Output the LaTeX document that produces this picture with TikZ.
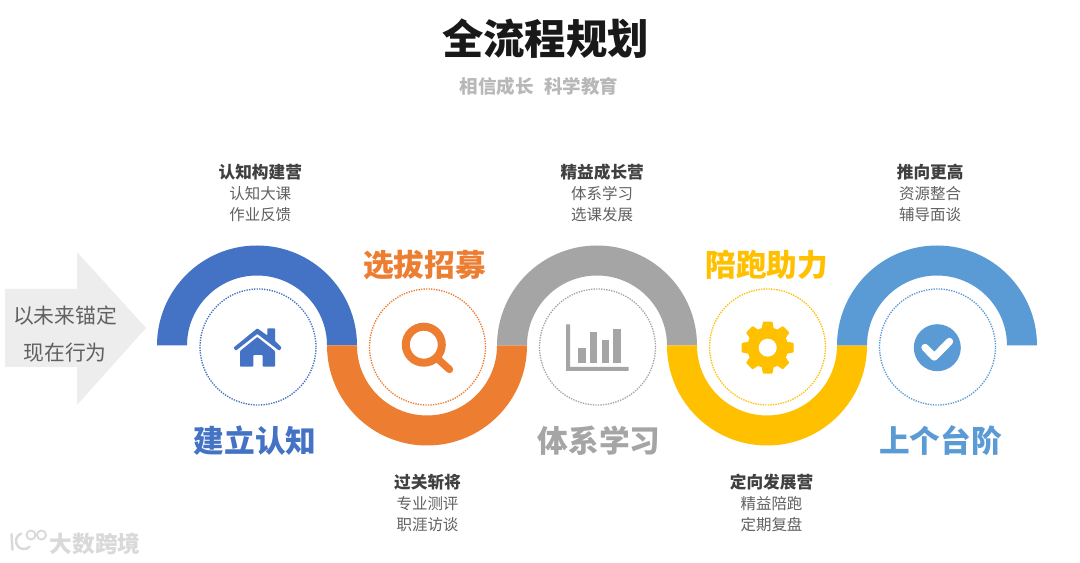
\documentclass[tikz,border=0pt]{standalone}
\usepackage{fontspec}
\setmainfont{Noto Sans CJK SC}
\usepackage{xcolor}
\usetikzlibrary{positioning}
\definecolor{stepblue}{HTML}{4472C4}
\definecolor{steporange}{HTML}{ED7D31}
\definecolor{stepgray}{HTML}{A5A5A5}
\definecolor{stepyellow}{HTML}{FFC000}
\definecolor{stepsky}{HTML}{5B9BD5}
\newcommand{\sub}[1]{{\bfseries\fontsize{12.5}{15.75}\selectfont\color{black!75}#1}}

\begin{document}
\begin{tikzpicture}[
  x=0.75pt, y=0.75pt,
  ring/.style={circle, draw, line width=1pt, dash pattern=on 1pt off 0.9pt,
    minimum size=87pt, inner sep=0pt},
  head/.style={inner sep=0pt, text height=17pt, text depth=5pt,
    font=\bfseries\fontsize{23}{26}\selectfont},
  detail/.style={inner sep=0pt, align=center, text=black!62,
    font=\fontsize{11.6}{15.75}\selectfont}
]
  \useasboundingbox (0,0) rectangle (1080,563);
  \fill[white] (0,0) rectangle (1080,563);

  % title
  \node[inner sep=0pt, text=black!90, font=\bfseries\fontsize{31}{34}\selectfont] (title) at (545.5,524) {全流程规划};
  \node[inner sep=0pt, text=black!28, font=\bfseries\fontsize{13.9}{16}\selectfont] (subtitle) at (539,477) {相信成长\hspace{0.55em}科学教育};

  % left arrow
  \fill[black!7] (5,274) -- (77,274) -- (77,311) -- (146,235) -- (77,158) -- (77,196) -- (5,196) -- cycle;
  \node[inner sep=0pt, align=center, text=black!62, font=\fontsize{15.6}{27.75}\selectfont] (motto) at (65,229) {以未来锚定\\现在行为};

  % bands
  \fill[stepblue] (157,217.5) arc (180:0:100) -- (327,217.5) arc (0:180:70) -- cycle;
  \fill[steporange] (327,217.5) arc (180:360:100) -- (497,217.5) arc (360:180:70) -- cycle;
  \fill[stepgray] (497,217.5) arc (180:0:100) -- (667,217.5) arc (0:180:70) -- cycle;
  \fill[stepyellow] (667,217.5) arc (180:360:100) -- (837,217.5) arc (360:180:70) -- cycle;
  \fill[stepsky] (837,217.5) arc (180:0:100) -- (1007,217.5) arc (0:180:70) -- cycle;

  % rings
  \node[ring, draw=stepblue] (c1) at (258,216) {};
  \node[ring, draw=steporange] (c2) at (427.5,216) {};
  \node[ring, draw=stepgray] (c3) at (597.5,216) {};
  \node[ring, draw=stepyellow] (c4) at (767.5,216) {};
  \node[ring, draw=stepsky] (c5) at (937.5,216) {};

  % headings
  \node[head, text=stepblue, below=18.2pt of c1, xshift=-2.2pt] (h1) {建立认知};
  \node[head, text=steporange, above=3.6pt of c2, xshift=-2.2pt] (h2) {选拔招募};
  \node[head, text=stepgray, below=18.2pt of c3, xshift=1.3pt] (h3) {体系学习};
  \node[head, text=stepyellow, above=3.6pt of c4, xshift=-0.5pt] (h4) {陪跑助力};
  \node[head, text=stepsky, below=18.2pt of c5, xshift=2.2pt] (h5) {上个台阶};

  % details
  \node[detail, above=49.8pt of c1, xshift=1.7pt] (t1) {\sub{认知构建营}\\认知大课\\作业反馈};
  \node[detail, below=51.4pt of c2, xshift=0pt] (t2) {\sub{过关斩将}\\专业测评\\职涯访谈};
  \node[detail, above=49.8pt of c3, xshift=3.5pt] (t3) {\sub{精益成长营}\\体系学习\\选课发展};
  \node[detail, below=51.4pt of c4, xshift=3pt] (t4) {\sub{定向发展营}\\精益陪跑\\定期复盘};
  \node[detail, above=49.8pt of c5, xshift=-5.5pt] (t5) {\sub{推向更高}\\资源整合\\辅导面谈};

  % icons, in pixels from the top
  \begin{scope}[shift={(0,563)}, yscale=-1]
    % house
    \fill[stepblue, rounded corners=0.6pt] (233.5,347.7) -- (257.3,328.3) -- (267.3,335.5) -- (267.3,328.3) -- (275,328.3) -- (275,341) -- (281.7,347.7) -- (279.3,350.7) -- (257.3,334) -- (235.7,350.7) -- cycle;
    \fill[stepblue, rounded corners=0.6pt] (240,351) -- (257.3,337) -- (275,351) -- (275,366.7) -- (262.7,366.7) -- (262.7,355) -- (253.3,355) -- (253.3,366.7) -- (240,366.7) -- cycle;
    % magnifier
    \draw[steporange, line width=6pt] (423.8,344.7) circle (18);
    \draw[steporange, line width=5.5pt, line cap=round] (439,360) -- (449.5,369.5);
    % chart
    \fill[stepgray] (566,324.3) -- (570,324.3) -- (570,367) -- (628.7,367) -- (628.7,371) -- (566,371) -- cycle;
    \fill[stepgray] (578,347.7) rectangle (585.7,363.3);
    \fill[stepgray] (590,332) rectangle (597.3,363.3);
    \fill[stepgray] (602,340) rectangle (609.3,363.3);
    \fill[stepgray] (613.3,329) rectangle (621,363.3);
    % gear
    \fill[stepyellow] (767.7,347.7) circle (20.5);
    \foreach \a in {0,45,...,315}
      \fill[stepyellow, rotate around={\a:(767.7,347.7)}, rounded corners=0.6pt] (761,332) -- (763,321.7) -- (772.4,321.7) -- (774.4,332) -- cycle;
    \fill[white] (767.7,347.7) circle (9);
    % check
    \fill[stepsky] (937.3,347.7) circle (23.5);
    \draw[white, line width=5.5pt, line cap=round, line join=round] (925,347.5) -- (934.3,357) -- (949.5,341.5);
    % logo
    \draw[black!15, line width=1.8pt, line cap=round] (11.5,534) -- (12.5,550);
    \draw[black!15, line width=1.8pt, line cap=round] (29.6,546.7) arc (45:250:8);
    \draw[black!15, line width=1.4pt] (31,535) circle (4.5) (41.5,535) circle (4.5);
  \end{scope}
  \node[inner sep=0pt, text=black!15, font=\bfseries\fontsize{17}{20}\selectfont] (brand) at (95,19.5) {大数跨境};
\end{tikzpicture}
\end{document}
